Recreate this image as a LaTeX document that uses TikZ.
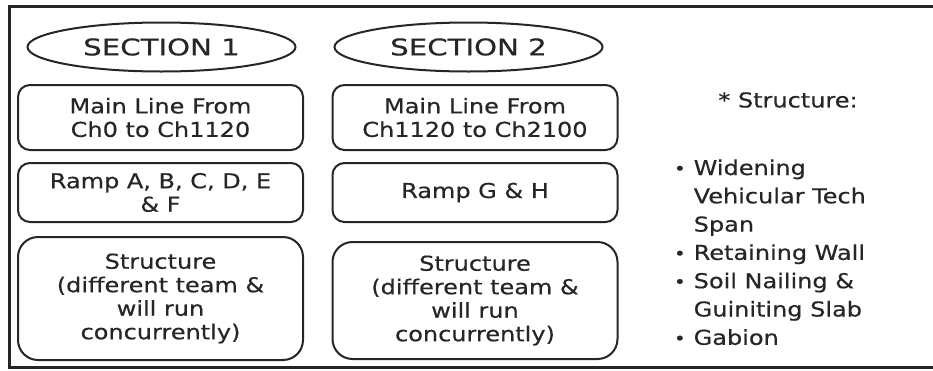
\documentclass[tikz,border=0pt]{standalone}
\usepackage{fontspec}
\setmainfont[FakeStretch=1.17, FakeBold=0.5]{DejaVu Sans}
\newfontfamily\sectionfont[FakeStretch=1.27, FakeBold=0.5]{DejaVu Sans}
\usepackage{tikz}
\usetikzlibrary{shapes.geometric, positioning}

\begin{document}
\begin{tikzpicture}[
        x=0.5pt,
        y=-0.5pt,
        line width=1pt,
        every node/.style={text=black!85},
        section/.style={
            ellipse,
            draw=black!85,
            minimum width=134pt,
            minimum height=24.5pt,
            inner sep=0pt,
            font=\sectionfont\fontsize{11.5}{13}\selectfont
        },
        block/.style={
            rectangle,
            draw=black!85,
            rounded corners=6pt,
            minimum width=142.5pt,
            inner sep=0pt,
            align=center,
            font=\fontsize{10.25}{11.75}\selectfont
        },
        bigblock/.style={
            block,
            rounded corners=10pt
        }
    ]

    \useasboundingbox (0,0) rectangle (933,370);

    % Frame
    \draw[line width=1.5pt, black!85] (933,6) -- (9,6) -- (9,367) -- (933,367);

    % Nodes
    \node[section] (section one) at (161.5,47) {SECTION 1};
    \node[section] (section two) at (468.5,47) {SECTION 2};

    \node[block, minimum height=32.5pt] (main one) at (160.5,117.5) {Main Line From\\Ch0 to Ch1120};
    \node[block, minimum height=32.5pt] (main two) at (475,117.5) {Main Line From\\Ch1120 to Ch2100};

    \node[block, minimum height=29.5pt] (ramp one) at (160.5,192.5) {Ramp A, B, C, D, E\\\& F};
    \node[block, minimum height=29.5pt] (ramp two) at (475,192.5) {Ramp G \& H};

    \node[bigblock, minimum height=61.5pt] (structure one) at (160.5,298.5) {Structure\\(different team \&\\will run\\concurrently)};
    \node[bigblock, minimum height=58.5pt] (structure two) at (475,300.5) {Structure\\(different team \&\\will run\\concurrently)};

    % Legend
    \node[font=\fontsize{10.25}{11.75}\selectfont] (legend) at (788,100) {* Structure:};
    \node[anchor=base west, inner sep=0pt, font=\fontsize{10.25}{14.15}\selectfont] (items) at (673,175) {%
        \begin{tabular}[t]{@{}l@{\hspace{4pt}}l@{}}
            \raisebox{0.2pt}{\fontsize{8.5}{8.5}\selectfont •} & Widening\\
            & Vehicular Tech\\
            & Span\\
            \raisebox{0.2pt}{\fontsize{8.5}{8.5}\selectfont •} & Retaining Wall\\
            \raisebox{0.2pt}{\fontsize{8.5}{8.5}\selectfont •} & Soil Nailing \&\\
            & Guiniting Slab\\
            \raisebox{0.2pt}{\fontsize{8.5}{8.5}\selectfont •} & Gabion
        \end{tabular}};

\end{tikzpicture}
\end{document}
